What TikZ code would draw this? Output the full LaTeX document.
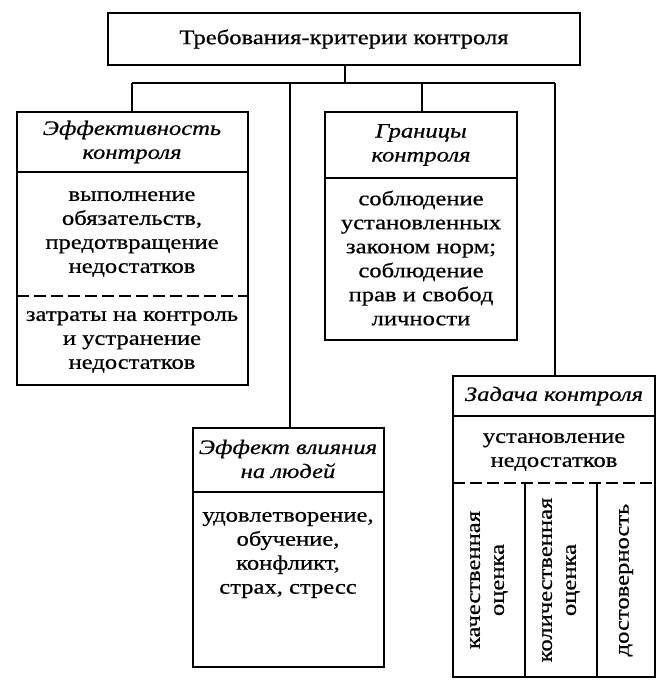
\documentclass[tikz,border=0pt]{standalone}
\usepackage{fontspec}
\setmainfont{Liberation Serif}[FakeStretch=1.2,FakeBold=0.6]
\begin{document}
\begin{tikzpicture}[x=1pt,y=-1pt,line width=1.1pt,
  box/.style={draw,anchor=north west,inner sep=0pt,outer sep=0pt},
  txt/.style={align=center,font=\fontsize{20.5}{24}\selectfont,inner sep=0pt},
  hd/.style={align=center,font=\fontsize{20.5}{24}\selectfont\itshape,inner sep=0pt}]
\useasboundingbox (0,0) rectangle (661,698);
% boxes
\node[box,minimum width=472,minimum height=52] (top) at (108,13) {};
\node[box,minimum width=231,minimum height=273] (b1) at (17,112) {};
\node[box,minimum width=192,minimum height=228] (b2) at (325,112) {};
\node[box,minimum width=191,minimum height=239] (b3) at (193,428) {};
\node[box,minimum width=202,minimum height=301] (b4) at (453,376) {};
% dividers
\draw (17,172) -- (248,172);
\draw[dashed,dash pattern=on 12pt off 5pt] (17,296) -- (248,296);
\draw (325,178) -- (517,178);
\draw (193,492) -- (384,492);
\draw (453,416) -- (655,416);
\draw[dashed,dash pattern=on 12pt off 5pt] (453,483) -- (655,483);
\draw (525,483) -- (525,677);
\draw (597,483) -- (597,677);
% connectors
\coordinate (bus) at (345,83);
\draw (top.south -| bus) -- (bus);
\draw (132,83) -- (555,83);
\draw (b1.north -| 132,0) -- (132,83);
\draw (b3.north -| 290,0) -- (290,83);
\draw (b2.north -| 422,0) -- (422,83);
\draw (b4.north -| 555,0) -- (555,83);
% texts
\node[txt] at (top.center) {Требования-критерии контроля};
\node[hd] at (132,142) {Эффективность\\контроля};
\node[txt] at (132,234) {выполнение\\обязательств,\\предотвращение\\недостатков};
\node[txt] at (132,342) {затраты на контроль\\и устранение\\недостатков};
\node[hd] at (421,145) {Границы\\контроля};
\node[txt] at (421,258) {соблюдение\\установленных\\законом норм;\\соблюдение\\прав и свобод\\личности};
\node[hd] at (288,459) {Эффект влияния\\на людей};
\node[txt] at (288,555) {удовлетворение,\\обучение,\\конфликт,\\страх, стресс};
\node[hd] at (554,396) {Задача контроля};
\node[txt] at (554,452) {установление\\недостатков};
\node[txt,rotate=90] at (489,580) {качественная\\оценка};
\node[txt,rotate=90] at (561,580) {количественная\\оценка};
\node[txt,rotate=90] at (626,580) {достоверность};
\end{tikzpicture}
\end{document}
